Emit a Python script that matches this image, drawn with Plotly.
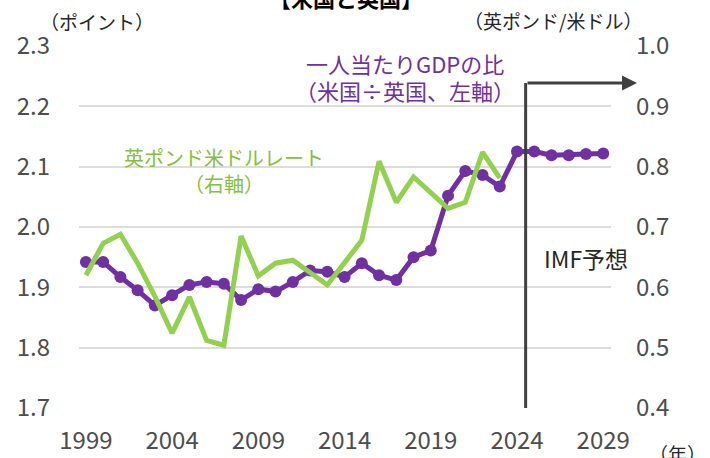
import plotly.graph_objects as go

# ---- data ----
years = list(range(1999, 2030))
gdp_ratio = [1.942, 1.942, 1.917, 1.895, 1.870, 1.887, 1.904, 1.909, 1.906, 1.879,
             1.897, 1.893, 1.909, 1.928, 1.926, 1.917, 1.940, 1.920, 1.912, 1.950,
             1.961, 2.052, 2.093, 2.086, 2.067, 2.125, 2.125, 2.119, 2.119, 2.121, 2.122]
fx_years = list(range(1999, 2024))
gbp_usd = [0.620, 0.673, 0.688, 0.640, 0.585, 0.524, 0.584, 0.512, 0.504, 0.685,
           0.619, 0.640, 0.645, 0.625, 0.604, 0.641, 0.678, 0.809, 0.741, 0.783,
           0.757, 0.731, 0.741, 0.824, 0.781]
x_ticks = [1999, 2004, 2009, 2014, 2019, 2024, 2029]
x_ticktext = [str(v) for v in x_ticks]
left_ticks = [1.7, 1.8, 1.9, 2.0, 2.1, 2.2, 2.3]
right_ticks = [0.4, 0.5, 0.6, 0.7, 0.8, 0.9, 1.0]
forecast_start = 2024.5

PURPLE = "#7030A0"
GREEN = "#92D050"
GREEN_TXT = "#86C03A"
DARK = "#262626"
TICK = "#4D4D4D"
FONT = "Noto Sans CJK JP"

W, H = 710, 458
L, R, T, B = 79, 99, 46, 50


def px(x):
    return (x - L) / (W - L - R)


def py(y):
    return (H - B - y) / (H - T - B)


fig = go.Figure()
fig.add_trace(go.Scatter(x=years, y=gdp_ratio, mode="lines+markers",
                         line=dict(color=PURPLE, width=5),
                         marker=dict(color=PURPLE, size=12),
                         cliponaxis=False, yaxis="y", showlegend=False))
fig.add_trace(go.Scatter(x=fx_years, y=gbp_usd, mode="lines",
                         line=dict(color=GREEN, width=5),
                         yaxis="y2", showlegend=False))

fig.add_shape(type="line", xref="x", yref="paper", x0=forecast_start, x1=forecast_start,
              y0=0, y1=py(83), line=dict(color="#404040", width=3), layer="above")

ann = []
ann.append(dict(xref="paper", yref="paper", x=px(637), y=py(83), ax=-111, ay=0,
                axref="pixel", ayref="pixel", text="", showarrow=True,
                arrowhead=2, arrowsize=1, arrowwidth=3, arrowcolor="#404040"))


def txt(t, x, y, size, color, **kw):
    d = dict(xref="paper", yref="paper", x=px(x), y=py(y), text=t, showarrow=False,
             font=dict(family=FONT, size=size, color=color), xanchor="center", yanchor="middle")
    d.update(kw)
    ann.append(d)


txt("<b>【米国と英国】</b>", 346, -3, 22, "#000000")
txt("（ポイント）", 97, 22, 19, DARK)
txt("（英ポンド/米ドル）", 553, 20, 19, DARK)
txt("一人当たりGDPの比", 405, 63, 22, PURPLE)
txt("（米国÷英国、左軸）", 405, 90, 22, PURPLE)
txt("英ポンド米ドルレート", 224, 157, 20, GREEN_TXT)
txt("（右軸）", 224, 183, 20, GREEN_TXT)
txt("IMF予想", 586, 258, 23, DARK)
txt("（年）", 677, 453, 19, DARK)

fig.update_layout(
    width=W, height=H,
    margin=dict(l=L, r=R, t=T, b=B, autoexpand=False),
    paper_bgcolor="white", plot_bgcolor="white",
    font=dict(family=FONT, color=TICK),
    annotations=ann,
    xaxis=dict(range=[1998.6, 2029.45], tickvals=x_ticks, ticktext=x_ticktext,
               showgrid=False, zeroline=False, showline=False, ticks="", automargin=False,
               tickfont=dict(size=24, color=TICK), ticklabelstandoff=16),
    yaxis=dict(range=[1.7, 2.3], tickvals=left_ticks, tickformat=".1f", automargin=False,
               showgrid=True, gridcolor="#DCDCDC", gridwidth=2, zeroline=False,
               showline=False, ticks="", tickfont=dict(size=24, color=TICK),
               ticklabelstandoff=28),
    yaxis2=dict(range=[0.4, 1.0], tickvals=right_ticks, tickformat=".1f", automargin=False,
                overlaying="y", side="right", showgrid=False, zeroline=False,
                showline=False, ticks="", tickfont=dict(size=24, color=TICK),
                ticklabelstandoff=24),
)

fig.write_html("out.html", config={"displayModeBar": False},
               post_script="document.body.style.margin='0';document.body.style.overflow='hidden';")
